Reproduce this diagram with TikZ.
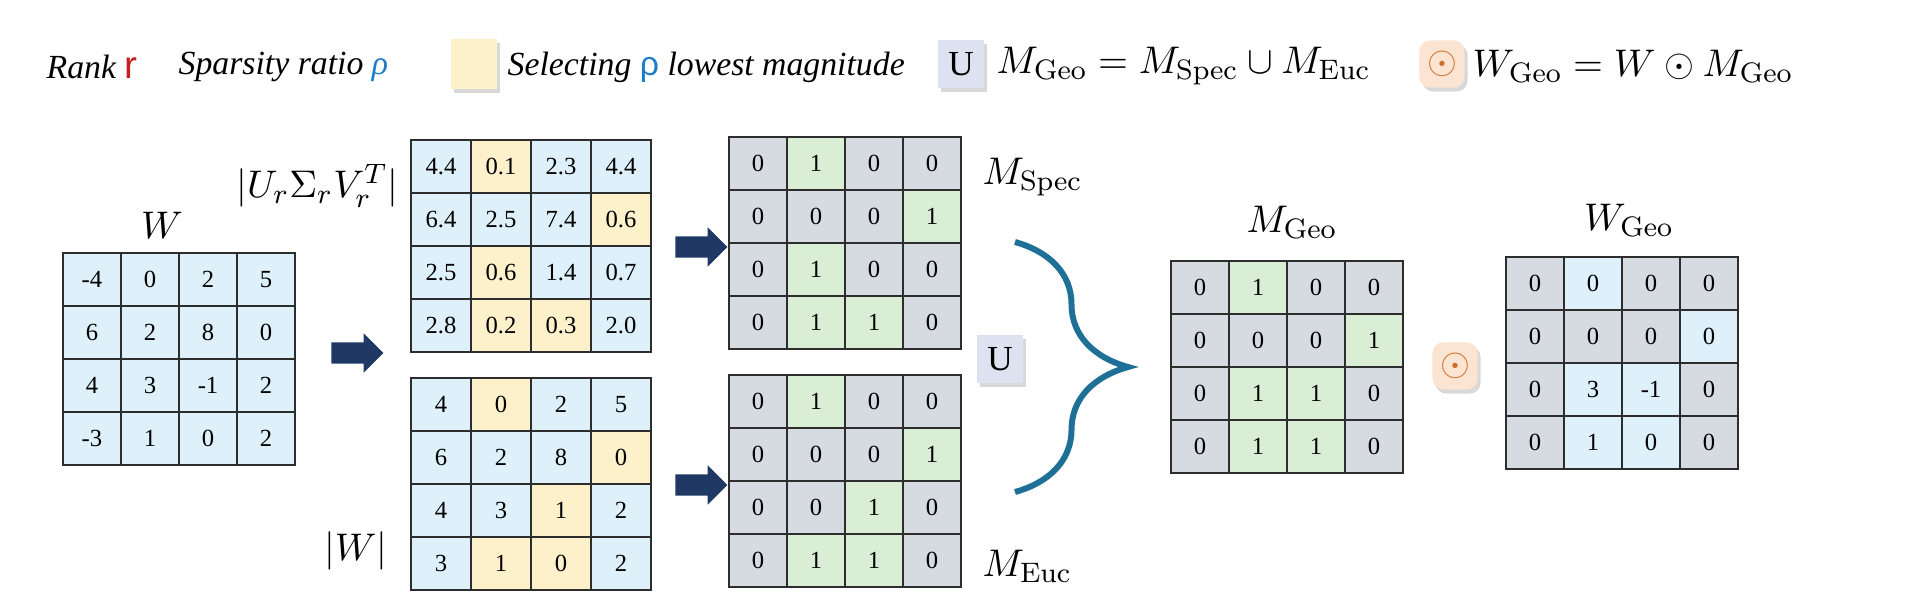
\documentclass[tikz,border=0pt]{standalone}
\usepackage{amsmath}
\usepackage{amssymb}
\usepackage[no-math]{fontspec}
\usepackage{xcolor}
\usepackage{tikz}
\usetikzlibrary{matrix,shapes.arrows,shadows,decorations.pathreplacing,positioning}
\newfontfamily\tnr{Liberation Serif}
\newfontfamily\sansf{Liberation Sans}
\definecolor{cellblue}{RGB}{222,240,250}
\definecolor{cellyellow}{RGB}{253,241,204}
\definecolor{cellgray}{RGB}{214,219,226}
\definecolor{cellgreen}{RGB}{218,238,214}
\definecolor{gridline}{RGB}{45,45,45}
\definecolor{arrownavy}{RGB}{31,56,100}
\definecolor{braceteal}{RGB}{30,112,150}
\definecolor{unionfill}{RGB}{220,226,240}
\definecolor{odotfill}{RGB}{251,228,210}
\definecolor{odotline}{RGB}{205,110,40}
\definecolor{rankred}{RGB}{200,30,30}
\definecolor{rhoblue}{RGB}{30,125,200}
\tikzset{
  cell/.style={draw=gridline,line width=0.5pt,minimum width=0.58cm,minimum height=0.53cm,
               inner sep=0pt,font=\tnr\fontsize{7}{8}\selectfont},
  mat/.style={matrix of nodes,nodes={cell},column sep=-0.5pt,row sep=-0.5pt,inner sep=0pt},
  bl/.style={fill=cellblue},
  yl/.style={fill=cellyellow},
  gn/.style={fill=cellgreen},
  lab/.style={font=\fontsize{11.4}{13}\selectfont,inner sep=0pt},
  legend/.style={font=\tnr\itshape\fontsize{9.6}{11}\selectfont,inner sep=0pt,anchor=west},
  blockarrow/.style={single arrow,fill=arrownavy,draw=none,inner xsep=0pt,inner ysep=0.1cm,
                     minimum height=0.52cm,single arrow head extend=0.09cm},
  opbox/.style={minimum width=0.45cm,minimum height=0.47cm,inner sep=0pt,
                drop shadow={shadow xshift=0.03cm,shadow yshift=-0.04cm,opacity=0.3}}
}
\begin{document}
\begin{tikzpicture}[x=0.01cm,y=-0.01cm]
\useasboundingbox[fill=white] (0,0) rectangle (1920,609);

% legend row
\node[legend] (rank) at (46,67) {Rank \textcolor{rankred}{\sansf\upshape\fontsize{11}{12}\selectfont r}};
\node[legend] (ratio) at (178,67) {Sparsity ratio \textcolor{rhoblue}{ρ}};
\node[opbox,fill=cellyellow,minimum height=0.49cm] (ylbox) at (474,64) {};
\node[legend] (select) at (507,67) {Selecting \textcolor{rhoblue}{\sansf\upshape ρ} lowest magnitude};
\node[opbox,fill=unionfill,font=\tnr\fontsize{10}{11}\selectfont] (unionkey) at (961,64) {U};
\node[lab,anchor=west] (geoeq) at (996,66) {$M_{\mathrm{Geo}} = M_{\mathrm{Spec}} \cup M_{\mathrm{Euc}}$};
\node[opbox,fill=odotfill,rounded corners=3pt,text=odotline,font=\fontsize{11.4}{13}\selectfont] (odotkey) at (1442,64) {$\odot$};
\node[lab,anchor=west] (wgeoeq) at (1472,66) {$W_{\mathrm{Geo}} = W \odot M_{\mathrm{Geo}}$};

% input weights
\node[lab] (wlab) at (162,225) {$W$};
\matrix (W) [mat,nodes={bl}] at (179,359) {
  -4 & 0 & 2 & 5 \\
  6 & 2 & 8 & 0 \\
  4 & 3 & -1 & 2 \\
  -3 & 1 & 0 & 2 \\
};
\node[blockarrow] (arrw) at (352,353) {};

% spectral and euclidean magnitudes
\node[lab,anchor=east] (svdlab) at (399,186) {$|U_r\Sigma_rV_r^T|$};
\matrix (S) [mat,nodes={bl,minimum width=0.6cm}] at (531,246) {
  4.4 & |[yl]| 0.1 & 2.3 & 4.4 \\
  6.4 & 2.5 & 7.4 & |[yl]| 0.6 \\
  2.5 & |[yl]| 0.6 & 1.4 & 0.7 \\
  2.8 & |[yl]| 0.2 & |[yl]| 0.3 & 2.0 \\
};
\node[lab,anchor=east] (abslab) at (388,551) {$|W|$};
\matrix (A) [mat,nodes={bl,minimum width=0.6cm}] at (531,484) {
  4 & |[yl]| 0 & 2 & 5 \\
  6 & 2 & 8 & |[yl]| 0 \\
  4 & 3 & |[yl]| 1 & 2 \\
  3 & |[yl]| 1 & |[yl]| 0 & 2 \\
};
\node[blockarrow] (arrs) at (696,247) {};
\node[blockarrow] (arra) at (696,485) {};

% masks
\matrix (Ms) [mat,nodes={fill=cellgray}] at (845,243) {
  0 & |[gn]| 1 & 0 & 0 \\
  0 & 0 & 0 & |[gn]| 1 \\
  0 & |[gn]| 1 & 0 & 0 \\
  0 & |[gn]| 1 & |[gn]| 1 & 0 \\
};
\node[lab,anchor=west] (mslab) at (982,177) {$M_{\mathrm{Spec}}$};
\matrix (Me) [mat,nodes={fill=cellgray}] at (845,481) {
  0 & |[gn]| 1 & 0 & 0 \\
  0 & 0 & 0 & |[gn]| 1 \\
  0 & 0 & |[gn]| 1 & 0 \\
  0 & |[gn]| 1 & |[gn]| 1 & 0 \\
};
\node[lab,anchor=west] (melab) at (982,566) {$M_{\mathrm{Euc}}$};

% union
\node[opbox,fill=unionfill,font=\tnr\fontsize{10}{11}\selectfont] (unionmid) at (1000,359) {U};
\coordinate (bracetop) at (1015,242);
\coordinate (bracebot) at (1015,492);
\draw[braceteal,line width=1.7pt,decorate,decoration={brace,amplitude=1.13cm}] (bracetop) -- (bracebot);

% geometric mask and pruned weights
\node[lab] (mglab) at (1292,222) {$M_{\mathrm{Geo}}$};
\matrix (Mg) [mat,nodes={fill=cellgray}] at (1287,367) {
  0 & |[gn]| 1 & 0 & 0 \\
  0 & 0 & 0 & |[gn]| 1 \\
  0 & |[gn]| 1 & |[gn]| 1 & 0 \\
  0 & |[gn]| 1 & |[gn]| 1 & 0 \\
};
\node[opbox,fill=odotfill,rounded corners=3pt,text=odotline,font=\fontsize{11.4}{13}\selectfont] (odotmid) at (1455,366) {$\odot$};
\node[lab] (wglab) at (1629,220) {$W_{\mathrm{Geo}}$};
\matrix (Wg) [mat,nodes={fill=cellgray}] at (1622,363) {
  0 & |[bl]| 0 & 0 & 0 \\
  0 & 0 & 0 & |[bl]| 0 \\
  0 & |[bl]| 3 & |[bl]| -1 & 0 \\
  0 & |[bl]| 1 & |[bl]| 0 & 0 \\
};
\end{tikzpicture}
\end{document}
